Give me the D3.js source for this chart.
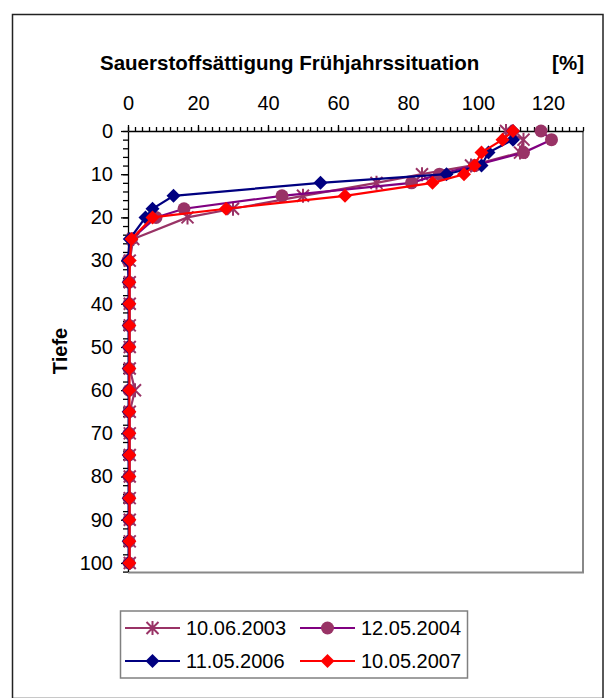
<!DOCTYPE html>
<html>
<head>
<meta charset="utf-8">
<script src="https://cdn.jsdelivr.net/npm/d3@7"></script>
<style>
  body { margin: 0; background: #fff; }
  text { font-family: "Liberation Sans", Arial, sans-serif; fill: #000; }
</style>
</head>
<body>
<div id="chart"></div>
<script>
// depth in m
var depths = [0, 2, 5, 8, 10, 12, 15, 18, 20, 25, 30, 35, 40, 45, 50, 55, 60, 65, 70, 75, 80, 85, 90, 95, 100];

// oxygen saturation in %
var sat2003 = [108, 113, 112, 98, 84, 71, 50, 30, 17, 1.5, 0.5, 0.5, 0.5, 0.5, 0.5, 0.5, 2, 0.5, 0.5, 0.5, 0.5, 0.5, 0.5, 0.5, 0.5];
var sat2004 = [118, 121, 113, 99, 89, 81, 44, 16, 8, 1, 0, 0.3, 0.3, 0.3, 0.3, 0.3, 0.3, 0.3, 0.3, 0.3, 0.3, 0.3, 0.3, 0.3, 0.3];
var sat2006 = [110, 110, 103, 101, 91, 55, 13, 7, 5, 0.5, 0, 0.2, 0.2, 0.2, 0.2, 0.2, 0.2, 0.2, 0.2, 0.2, 0.2, 0.2, 0.2, 0.2, 0.2];
var sat2007 = [110, 107, 101, 99, 96, 87, 62, 28, 7, 1, 0.5, 0.4, 0.4, 0.4, 0.4, 0.4, 0.4, 0.4, 0.4, 0.4, 0.4, 0.4, 0.4, 0.4, 0.4];

var seriesNames = ["10.06.2003", "12.05.2004", "11.05.2006", "10.05.2007"];
var xTicks = [0, 20, 40, 60, 80, 100, 120];
var yTicks = [0, 10, 20, 30, 40, 50, 60, 70, 80, 90, 100];

var series = [
    {name: seriesNames[0], values: sat2003, line: "#993366", fill: "#993366", marker: "star"},
    {name: seriesNames[1], values: sat2004, line: "#800080", fill: "#993366", marker: "circle"},
    {name: seriesNames[2], values: sat2006, line: "#000080", fill: "#000080", marker: "diamond"},
    {name: seriesNames[3], values: sat2007, line: "#FF0000", fill: "#FF0000", marker: "diamond"}
];

var width = 606;
var height = 698;

var svg = d3.select("#chart").append("svg")
    .attr("width", width)
    .attr("height", height);

// outer chart border
svg.append("rect")
    .attr("x", 12.5).attr("y", 14.5)
    .attr("width", 590.5).attr("height", 684)
    .attr("fill", "none")
    .attr("stroke", "#222")
    .attr("stroke-width", 1.5);

var xScale = d3.scaleLinear().domain([0, 130]).range([128, 583]);
var yScale = d3.scaleLinear().domain([0, 102]).range([131, 571.6]);

// plot area border (right + bottom, grey)
svg.append("path")
    .attr("d", `M${xScale(0)},${yScale(102) + 1}H${xScale(130)}V${yScale(0)}`)
    .attr("fill", "none")
    .attr("stroke", "#888")
    .attr("stroke-width", 2);

/* Axes */
var minorX = d3.range(0, 131, 2);
var minorY = d3.range(0, 103, 2);

var xMinor = svg.append("g")
    .attr("transform", `translate(0, ${yScale(0)})`)
    .call(d3.axisTop(xScale).tickValues(minorX).tickSize(4).tickSizeOuter(0).tickFormat(""));

var xMajor = svg.append("g")
    .attr("transform", `translate(0, ${yScale(0)})`)
    .call(d3.axisTop(xScale).tickValues(xTicks).tickSize(6).tickPadding(15));
xMajor.select(".domain").remove();

var yMinor = svg.append("g")
    .attr("transform", `translate(${xScale(0)}, 0)`)
    .call(d3.axisLeft(yScale).tickValues(minorY).tickSize(5).tickSizeOuter(0).tickFormat(""));

var yMajor = svg.append("g")
    .attr("transform", `translate(${xScale(0)}, 0)`)
    .call(d3.axisLeft(yScale).tickValues(yTicks).tickSize(7).tickPadding(8));
yMajor.select(".domain").remove();

svg.selectAll(".tick line, .domain").attr("stroke", "#000").attr("stroke-width", 1.3);
svg.selectAll(".tick text")
    .style("font-family", "'Liberation Sans', Arial, sans-serif")
    .style("font-size", "20px")
    .attr("fill", "#000");

/* Titles */
svg.append("text")
    .attr("x", 100).attr("y", 70)
    .style("font-size", "20.5px").style("font-weight", "bold")
    .text("Sauerstoffsättigung Frühjahrssituation");

svg.append("text")
    .attr("x", 584).attr("y", 70)
    .attr("text-anchor", "end")
    .style("font-size", "20.5px").style("font-weight", "bold")
    .text("[%]");

svg.append("text")
    .attr("transform", "translate(67, 351) rotate(-90)")
    .attr("text-anchor", "middle")
    .style("font-size", "20px").style("font-weight", "bold")
    .text("Tiefe");

/* Markers */
function drawMarker(g, type, fill) {
    if (type === "circle") {
        g.append("circle").attr("r", 6.5).attr("fill", fill);
    } else if (type === "diamond") {
        g.append("path").attr("d", "M0,-7L7,0L0,7L-7,0Z").attr("fill", fill);
    } else {
        g.append("path")
            .attr("d", "M0,-7V7M-6,-6L6,6M-6,6L6,-6")
            .attr("stroke", fill)
            .attr("stroke-width", 2)
            .attr("fill", "none");
    }
}

/* Lines */
var line = d3.line()
    .x(d => xScale(d.v))
    .y(d => yScale(d.depth));

series.forEach(function(s) {
    var pts = s.values.map((v, i) => ({v: v, depth: depths[i]}));
    var g = svg.append("g").attr("class", "series");
    g.append("path")
        .attr("d", line(pts))
        .attr("fill", "none")
        .attr("stroke", s.line)
        .attr("stroke-width", 2.2);
    pts.forEach(function(p) {
        var m = g.append("g").attr("transform", `translate(${xScale(p.v)}, ${yScale(p.depth)})`);
        drawMarker(m, s.marker, s.fill);
    });
});

/* Legend */
var legend = svg.append("g").attr("class", "legend");
legend.append("rect")
    .attr("x", 120.5).attr("y", 611)
    .attr("width", 347).attr("height", 67)
    .attr("fill", "#fff")
    .attr("stroke", "#808080")
    .attr("stroke-width", 1.5);

var legendPos = [[125, 628], [300, 628], [125, 661], [300, 661]];
series.forEach(function(s, i) {
    var lx = legendPos[i][0], ly = legendPos[i][1];
    var item = legend.append("g").attr("transform", `translate(${lx}, ${ly})`);
    item.append("line")
        .attr("x1", 0).attr("x2", 55)
        .attr("stroke", s.line)
        .attr("stroke-width", 2.2);
    drawMarker(item.append("g").attr("transform", "translate(27.5, 0)"), s.marker, s.fill);
    item.append("text")
        .attr("x", 61).attr("y", 7)
        .style("font-size", "20px")
        .text(s.name);
});
</script>
</body>
</html>
